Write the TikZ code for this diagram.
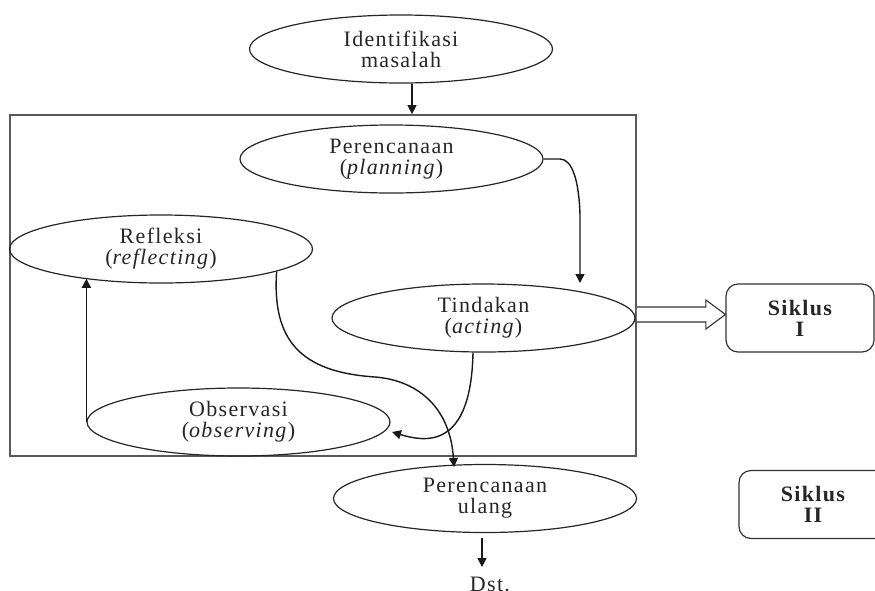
\documentclass[tikz,border=0pt]{standalone}
\usepackage{fontspec}
\setmainfont[LetterSpace=6]{Liberation Serif}
\usetikzlibrary{shapes.geometric,arrows.meta,calc}
\begin{document}
\begin{tikzpicture}[x=1pt,y=-1pt,
  txt/.style={text=black!85,font=\fontsize{22}{21}\selectfont},
  oval/.style={ellipse,draw=black!85,line width=1.2pt,minimum width=303pt,minimum height=68pt,inner sep=0pt,align=center,txt},
  sbox/.style={rounded corners=12pt,draw=black!80,line width=1.2pt,minimum width=148pt,minimum height=68pt,align=center,txt,font=\fontsize{22}{21}\selectfont\bfseries},
  framebox/.style={draw=black!65,line width=1.8pt,inner sep=0pt,minimum width=626pt,minimum height=341pt},
  arr/.style={draw=black!90,line width=1.4pt,-{Triangle[length=9pt,width=9pt]}},
  hollow/.style={draw=black!80,line width=1.1pt,fill=white,line join=miter},
]
\useasboundingbox (0,0) rectangle (875,590);
\clip (0,0) rectangle (875,590);
\fill[white] (0,0) rectangle (875,590);

% frame
\node[framebox] (frame) at (323,285.5) {};

% ellipses
\node[oval] (ident) at (401,49) {Identifikasi\\masalah};
\node[oval] (plan) at (391.5,159) {Perencanaan\\(\textit{planning})};
\node[oval] (refl) at (161,249) {Refleksi\\(\textit{reflecting})};
\node[oval] (tind) at (483.5,318) {Tindakan\\(\textit{acting})};
\node[oval] (obs) at (238.5,422) {Observasi\\(\textit{observing})};
\node[oval] (ulang) at (485,498.5) {Perencanaan\\ulang};

% cycle boxes
\node[sbox] (s1) at (800,318) {Siklus\\I};
\node[sbox] (s2) at (813,504.5) {Siklus\\II};

\node[txt,anchor=north] (dst) at (490,574) {Dst.};

% coordinates
\coordinate (a1) at (412,0);
\coordinate (p2) at (580,283);
\coordinate (c3) at (473,0);
\coordinate (p3) at (392,432);
\coordinate (p4) at (454,467);
\coordinate (d0) at (482,538);
\coordinate (d1) at (482,567);
\coordinate (h0) at (frame.east |- 0,314.5);

% connectors
\draw[arr] (ident.south -| a1) -- (frame.north -| a1);
\draw[arr] (plan.east) -- (560,159) .. controls (572,159) and (579,180) .. (580,215) -- (p2);
\draw[arr] (tind.south -| c3) .. controls (471,450) and (425,442) .. (p3);
\draw[arr] (refl.-11.7) .. controls (272,340) and (300,372) .. (375,377)
  .. controls (415,380) and (450,405) .. (p4);
\draw[arr] (obs.west) -- (obs.west |- refl.201.4);
\draw[arr] (d0) -- (d1);

% hollow arrow to Siklus I
\draw[hollow] ($(h0)+(0,-7.5)$) -- ($(h0)+(69,-7.5)$) -- ($(h0)+(69,-14.5)$)
  -- (s1.west |- h0) -- ($(h0)+(69,14.5)$) -- ($(h0)+(69,7.5)$) -- ($(h0)+(0,7.5)$);
\end{tikzpicture}
\end{document}
